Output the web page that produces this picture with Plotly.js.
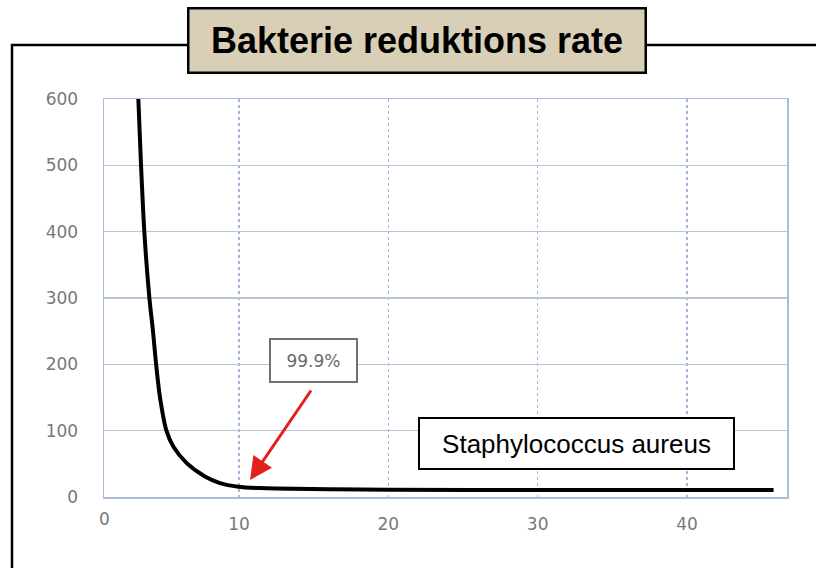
<!DOCTYPE html>
<html>
<head>
<meta charset="utf-8">
<script src="https://cdn.plot.ly/plotly-3.0.1.min.js"></script>
<style>
  html, body { margin: 0; padding: 0; background: #ffffff; }
  #chart { width: 816px; height: 568px; }
</style>
</head>
<body>
<div id="chart"></div>
<script>
// ---- data ----
const timeValues = [3.26, 3.44, 3.66, 4.0, 4.24, 4.45, 4.71, 5.14, 5.6, 6.5, 7.72, 8.73, 9.95, 11.4, 20, 30, 45.8];
const bacteriaValues = [600, 500, 400, 300, 250, 200, 150, 100, 76, 51, 31, 21, 15.6, 13.5, 11, 10.5, 10.5];
const xTickValues = [10, 20, 30, 40];
const xTickLabels = ['10', '20', '30', '40'];
const yTickValues = [0, 100, 200, 300, 400, 500, 600];
const yTickLabels = ['0', '100', '200', '300', '400', '500', '600'];
const chartTitle = 'Bakterie reduktions rate';
const seriesName = 'Staphylococcus aureus';
const reductionLabel = '99.9%';
const reductionPoint = {x: 10.74, y: 25.6};

// ---- layout helpers (pixel -> paper) ----
const PL = 104, PR = 787, PT = 99, PB = 497;
const px = v => (v - PL) / (PR - PL);
const py = v => (PB - v) / (PB - PT);

const tickFont = {family: 'DejaVu Sans, sans-serif', size: 17, color: '#787878'};
const axisBorder = '#a9bcdc';

const trace = {
  x: timeValues,
  y: bacteriaValues,
  type: 'scatter',
  mode: 'lines',
  name: seriesName,
  line: {color: '#000000', width: 4, shape: 'spline', smoothing: 0.8},
  hoverinfo: 'x+y'
};

const frameLine = {color: '#000000', width: 2.5};

const layout = {
  width: 816,
  height: 568,
  margin: {l: PL, r: 816 - PR, t: PT, b: 568 - PB, pad: 0},
  paper_bgcolor: '#ffffff',
  plot_bgcolor: '#ffffff',
  showlegend: false,
  xaxis: {
    range: [0.96, 46.7],
    tickvals: xTickValues,
    ticktext: xTickLabels,
    ticks: '',
    ticklabelstandoff: 11,
    tickfont: tickFont,
    showgrid: true,
    gridcolor: '#a3b7d6',
    gridwidth: 1.5,
    griddash: 'dot',
    zeroline: false,
    showline: true,
    linecolor: axisBorder,
    linewidth: 1.5,
    mirror: true,
    fixedrange: true
  },
  yaxis: {
    range: [0, 600],
    tickvals: yTickValues,
    ticktext: yTickLabels,
    ticks: '',
    ticklabelstandoff: 21,
    tickfont: tickFont,
    showgrid: true,
    gridcolor: '#b7c4d8',
    gridwidth: 1.3,
    zeroline: false,
    showline: true,
    linecolor: axisBorder,
    linewidth: 1.5,
    mirror: true,
    fixedrange: true
  },
  shapes: [
    {type: 'line', xref: 'paper', yref: 'paper', x0: px(11), x1: px(187), y0: py(45), y1: py(45), line: frameLine},
    {type: 'line', xref: 'paper', yref: 'paper', x0: px(646), x1: px(818), y0: py(45), y1: py(45), line: frameLine},
    {type: 'line', xref: 'paper', yref: 'paper', x0: px(12), x1: px(12), y0: py(44), y1: py(570), line: frameLine}
  ],
  annotations: [
    {
      xref: 'paper', yref: 'paper', x: px(416.5), y: py(40.5),
      xanchor: 'center', yanchor: 'middle',
      text: '<b>' + chartTitle + '</b>',
      font: {family: 'Liberation Sans, Arial, sans-serif', size: 36, color: '#000000'},
      bgcolor: '#d8cfb6', bordercolor: '#000000', borderwidth: 2.5, borderpad: 0,
      width: 455, height: 62, showarrow: false
    },
    {
      xref: 'paper', yref: 'paper', x: px(576.5), y: py(443.5),
      xanchor: 'center', yanchor: 'middle',
      text: seriesName,
      font: {family: 'Liberation Sans, Arial, sans-serif', size: 26, color: '#000000'},
      bgcolor: '#ffffff', bordercolor: '#000000', borderwidth: 2, borderpad: 0,
      width: 313, height: 49, showarrow: false
    },
    {
      xref: 'paper', yref: 'paper', x: px(313.5), y: py(360.5),
      xanchor: 'center', yanchor: 'middle',
      text: reductionLabel,
      font: {family: 'DejaVu Sans, sans-serif', size: 17, color: '#6a6a6a'},
      bgcolor: '#ffffff', bordercolor: '#707070', borderwidth: 2, borderpad: 0,
      width: 85, height: 41, showarrow: false
    },
    {
      xref: 'x', yref: 'y', x: reductionPoint.x, y: reductionPoint.y,
      text: '', showarrow: true,
      ax: 62, ay: -91,
      arrowcolor: '#e3201b', arrowwidth: 3, arrowhead: 2, arrowsize: 1.5, standoff: 0
    },
    {
      xref: 'paper', yref: 'paper', x: 0, y: py(519),
      xanchor: 'center', yanchor: 'middle',
      text: '0', showarrow: false, font: tickFont
    }
  ]
};

Plotly.newPlot('chart', [trace], layout, {displayModeBar: false, staticPlot: true});
</script>
</body>
</html>
